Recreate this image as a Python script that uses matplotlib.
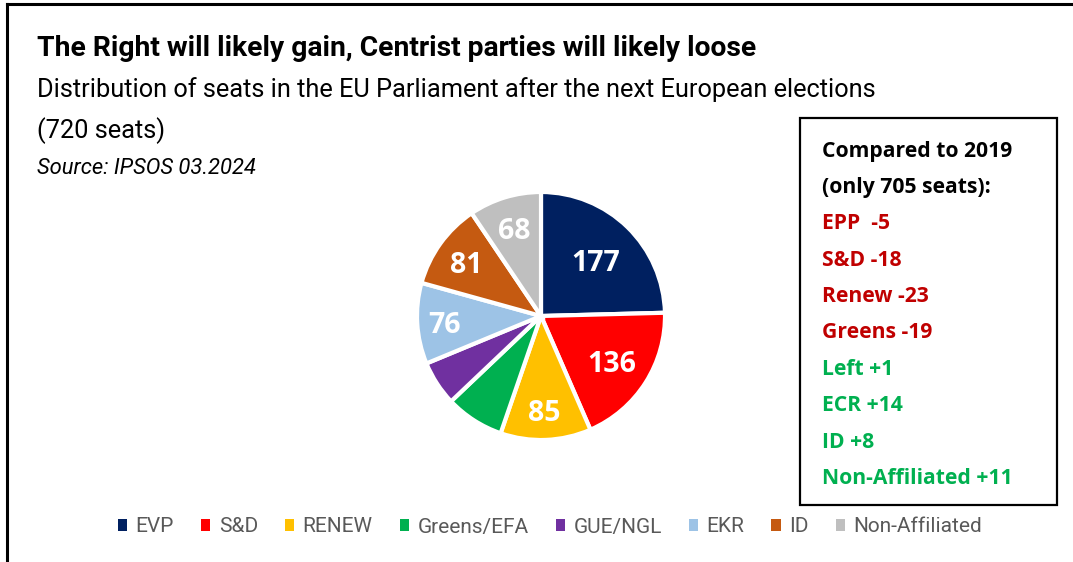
import matplotlib.pyplot as plt
from matplotlib.patches import Patch, Rectangle
from matplotlib.lines import Line2D
import numpy as np

# seats per group after the election (720 total)
parties = ["EVP", "S&D", "RENEW", "Greens/EFA", "GUE/NGL", "EKR", "ID", "Non-Affiliated"]
seats = [177, 136, 85, 55, 42, 76, 81, 68]
colors = ["#002060", "#FF0000", "#FFC000", "#00B050", "#7030A0", "#9DC3E6", "#C55A11", "#BFBFBF"]
show_label = [True, True, True, False, False, True, True, True]
label_dist = [0.63, 0.68, 0.76, 0.7, 0.7, 0.78, 0.74, 0.74]

# change vs 2019 (705 seats)
changes = ["EPP  -5", "S&D -18", "Renew -23", "Greens -19",
           "Left +1", "ECR +14", "ID +8", "Non-Affiliated +11"]
change_colors = ["#C00000"] * 4 + ["#00B050"] * 4

W, H = 1073, 562
fig = plt.figure(figsize=(W / 100, H / 100), dpi=100)

def px(x, y):
    return x / W, 1 - y / H

# outer frame (left and top edges)
fig.add_artist(Line2D([7 / W, 7 / W], [0, 1 - 4 / H], color="black", lw=2.2))
fig.add_artist(Line2D([7 / W, 1], [1 - 4 / H, 1 - 4 / H], color="black", lw=2.2))

head_font = ["Roboto", "DejaVu Sans"]
fig.text(*px(37, 48), "The Right will likely gain, Centrist parties will likely loose",
         fontsize=20.3, fontweight="bold", family=head_font, va="center", ha="left")
fig.text(*px(37, 90), "Distribution of seats in the EU Parliament after the next European elections",
         fontsize=18.3, family=head_font, va="center", ha="left")
fig.text(*px(37, 131), "(720 seats)", fontsize=18.3, family=head_font, va="center", ha="left")
fig.text(*px(37, 169), "Source: IPSOS 03.2024", fontsize=15.8, style="italic",
         family=head_font, va="center", ha="left")

# pie: centre (541, 316) px, radius 124 px
R = 124
half = 132
ax = fig.add_axes([(541 - half) / W, (H - 316 - half) / H, 2 * half / W, 2 * half / H])
wedges, _ = ax.pie(seats, colors=colors, startangle=90, counterclock=False,
                   wedgeprops=dict(edgecolor="white", linewidth=3))
lim = half / R
ax.set_xlim(-lim, lim)
ax.set_ylim(-lim, lim)
ax.set_aspect("equal")
ax.axis("off")

for w, v, show, d in zip(wedges, seats, show_label, label_dist):
    if not show:
        continue
    ang = np.deg2rad((w.theta1 + w.theta2) / 2)
    ax.text(d * np.cos(ang), d * np.sin(ang), str(v), color="white",
            fontsize=20.5, fontweight="bold", family=["Open Sans", "DejaVu Sans"],
            ha="center", va="center_baseline")

# comparison box
fig.add_artist(Rectangle((800 / W, 1 - 505 / H), 257 / W, 387 / H, transform=fig.transFigure,
                         fill=False, edgecolor="black", lw=1.6))
box_lines = ["Compared to 2019", "(only 705 seats):"] + changes
box_colors = ["black", "black"] + change_colors
for i, (t, c) in enumerate(zip(box_lines, box_colors)):
    fig.text(*px(822, 151 + i * 36.4), t, color=c, fontsize=15.2, fontweight="bold",
             family=["Open Sans", "DejaVu Sans"], va="center", ha="left")

# legend
handles = [Patch(facecolor=c, edgecolor="none") for c in colors]
fig.legend(handles, parties, loc="center", bbox_to_anchor=px(550, 527), ncol=8,
           frameon=False, handlelength=0.45, handleheight=0.45, handletextpad=0.4,
           columnspacing=1.3, prop=dict(family=head_font, size=15), labelcolor="#595959")

fig.savefig("out.png", dpi=100)
